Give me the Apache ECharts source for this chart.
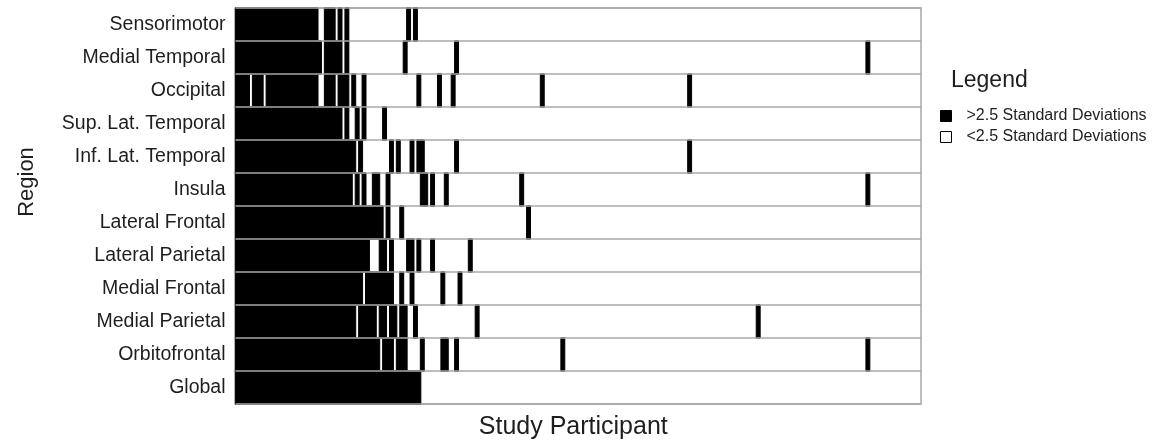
<!DOCTYPE html>
<html>
<head>
<meta charset="utf-8">
<script src="https://cdn.jsdelivr.net/npm/echarts@6/dist/echarts.min.js"></script>
<style>
  html, body { margin: 0; padding: 0; background: #fff; }
  #chart { width: 1173px; height: 445px; }
</style>
</head>
<body>
<div id="chart"></div>
<script>
// ---- data ----
const regions = ['Sensorimotor', 'Medial Temporal', 'Occipital', 'Sup. Lat. Temporal', 'Inf. Lat. Temporal',
  'Insula', 'Lateral Frontal', 'Lateral Parietal', 'Medial Frontal', 'Medial Parietal', 'Orbitofrontal', 'Global'];
const participantCount = 200;

// participant index ranges [from, to] (inclusive) that exceed 2.5 SD, per region
const sensorimotor     = [[0,23],[26,28],[30,30],[32,32],[50,50],[52,52]];
const medialTemporal   = [[0,24],[26,30],[32,32],[49,49],[64,64],[184,184]];
const occipital        = [[0,3],[5,7],[9,23],[26,28],[30,32],[34,34],[37,37],[53,53],[59,59],[63,63],[89,89],[132,132]];
const supLatTemporal   = [[0,30],[32,32],[35,35],[37,37],[43,43]];
const infLatTemporal   = [[0,34],[36,36],[45,45],[47,47],[51,51],[53,54],[64,64],[132,132]];
const insula           = [[0,33],[35,35],[37,37],[40,41],[44,44],[54,55],[57,57],[61,61],[83,83],[184,184]];
const lateralFrontal   = [[0,42],[44,44],[48,48],[85,85]];
const lateralParietal  = [[0,38],[42,43],[45,45],[50,51],[53,53],[57,57],[68,68]];
const medialFrontal    = [[0,36],[38,45],[48,48],[51,51],[60,60],[65,65]];
const medialParietal   = [[0,34],[36,40],[42,43],[45,46],[48,49],[52,52],[70,70],[152,152]];
const orbitofrontal    = [[0,41],[43,45],[47,49],[54,54],[60,61],[64,64],[95,95],[184,184]];
const globalRegion     = [[0,53]];

const regionRuns = [sensorimotor, medialTemporal, occipital, supLatTemporal, infLatTemporal, insula,
  lateralFrontal, lateralParietal, medialFrontal, medialParietal, orbitofrontal, globalRegion];

const legendHigh = '>2.5 Standard Deviations';
const legendLow = '<2.5 Standard Deviations';

// ---- build ----
const participants = [];
for (let i = 0; i < participantCount; i++) participants.push('P' + (i + 1));

const highCells = [];
regionRuns.forEach((runs, r) => {
  runs.forEach(([a, b]) => {
    for (let c = a; c <= b; c++) highCells.push([c, r, 1]);
  });
});

const textColor = '#1e1e1e';
const fontFamily = '"Liberation Sans", Arial, Helvetica, sans-serif';

const chart = echarts.init(document.getElementById('chart'), null, { renderer: 'canvas' });
chart.setOption({
  animation: false,
  backgroundColor: '#fff',
  textStyle: { fontFamily: fontFamily },
  title: {
    text: 'Legend',
    left: 946, top: 64,
    textStyle: { fontSize: 23, fontWeight: 'normal', color: textColor, fontFamily: fontFamily }
  },
  legend: {
    orient: 'vertical',
    left: 940, top: 108,
    padding: 0,
    itemWidth: 11, itemHeight: 11, itemGap: 5,
    selectedMode: false,
    textStyle: { fontSize: 16, color: textColor, fontFamily: fontFamily, padding: [0, 0, 0, 10] },
    data: [
      { name: legendHigh, icon: 'rect', itemStyle: { color: '#000', borderColor: '#000', borderWidth: 1 } },
      { name: legendLow, icon: 'rect', itemStyle: { color: '#fff', borderColor: '#000', borderWidth: 1 } }
    ]
  },
  grid: {
    left: 235.5, right: 252, top: 8, bottom: 41,
    show: true, borderColor: '#a8a8a8', borderWidth: 1.5, backgroundColor: '#fff'
  },
  xAxis: {
    type: 'category',
    data: participants,
    name: 'Study Participant',
    nameLocation: 'middle',
    nameGap: 11,
    nameTextStyle: { fontSize: 25, color: textColor, fontFamily: fontFamily, verticalAlign: 'top', padding: [0, 10, 0, 0] },
    axisLine: { show: false },
    axisTick: { show: false },
    axisLabel: { show: false },
    splitLine: { show: false }
  },
  yAxis: {
    type: 'category',
    data: regions,
    inverse: true,
    z: 10,
    name: 'Region',
    nameLocation: 'middle',
    nameGap: 198,
    nameTextStyle: { fontSize: 22, color: textColor, fontFamily: fontFamily, padding: [0, 0, 0, 48] },
    axisLine: { show: false },
    axisTick: { show: false },
    axisLabel: { fontSize: 19.5, color: textColor, margin: 10, fontFamily: fontFamily },
    splitLine: { show: true, interval: 0, lineStyle: { color: '#a8a8a8', width: 1.5 } }
  },
  series: [
    {
      name: legendHigh,
      type: 'heatmap',
      data: highCells,
      itemStyle: { color: '#000', borderColor: '#000', borderWidth: 1 },
      emphasis: { disabled: true }
    },
    {
      name: legendLow,
      type: 'heatmap',
      data: [],
      itemStyle: { color: '#fff' }
    }
  ]
});
</script>
</body>
</html>
